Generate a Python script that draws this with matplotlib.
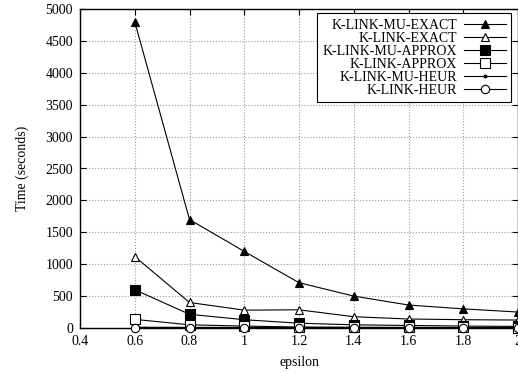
import matplotlib
matplotlib.use("Agg")
import matplotlib.pyplot as plt

plt.rcParams['font.family'] = ['Liberation Serif', 'DejaVu Serif']

epsilon = [0.6, 0.8, 1.0, 1.2, 1.4, 1.6, 1.8, 2.0]

mu_exact = [4800, 1700, 1200, 710, 500, 360, 300, 250]
exact = [1120, 400, 280, 285, 177, 141, 130, 125]
mu_approx = [600, 215, 130, 75, 50, 40, 30, 25]
approx = [135, 50, 30, 15, 12, 10, 8, 7]
mu_heur = [12, 10, 9, 8, 7, 6, 6, 5]
heur = [5, 4, 4, 3, 3, 3, 2, 2]

labels = ['K-LINK-MU-EXACT', 'K-LINK-EXACT', 'K-LINK-MU-APPROX',
          'K-LINK-APPROX', 'K-LINK-MU-HEUR', 'K-LINK-HEUR']
series = [mu_exact, exact, mu_approx, approx, mu_heur, heur]
markers = ['^', '^', 's', 's', '.', 'o']
filled = [True, False, True, False, True, False]
msizes = [6, 6, 7, 7, 4, 6]

fig = plt.figure(figsize=(5.18, 3.73), dpi=100)
ax = fig.add_axes([80 / 518, 1 - 328 / 373, 438 / 518, 319 / 373])

for y, lab, m, f, ms in zip(series, labels, markers, filled, msizes):
    ax.plot(epsilon, y, color='black', linewidth=0.8, marker=m, markersize=ms,
            markerfacecolor='black' if f else 'white', markeredgecolor='black',
            markeredgewidth=0.8, label=lab, clip_on=False, zorder=3)

ax.set_xlim(0.4, 2.0)
ax.set_ylim(0, 5000)
ax.set_xticks([0.4, 0.6, 0.8, 1.0, 1.2, 1.4, 1.6, 1.8, 2.0])
ax.set_xticklabels(['0.4', '0.6', '0.8', '1', '1.2', '1.4', '1.6', '1.8', '2'])
ax.set_yticks(range(0, 5001, 500))
ax.grid(True, color='#999999', linestyle=':', linewidth=0.8)
ax.tick_params(direction='in', top=True, right=True, length=4, labelsize=10, pad=5)
for s in ax.spines.values():
    s.set_linewidth(1.0)

ax.set_xlabel('epsilon', fontsize=10, labelpad=6)
ax.set_ylabel('Time (seconds)', fontsize=10, labelpad=12)

leg = ax.legend(loc='upper right', bbox_to_anchor=(0.985, 0.987), markerfirst=False,
                fontsize=10, frameon=True, fancybox=False, edgecolor='black',
                framealpha=1, borderpad=0.4, labelspacing=0.0, handlelength=3.0,
                handletextpad=0.5, borderaxespad=0)
leg.get_frame().set_linewidth(0.8)

fig.savefig('out.png', dpi=100)
